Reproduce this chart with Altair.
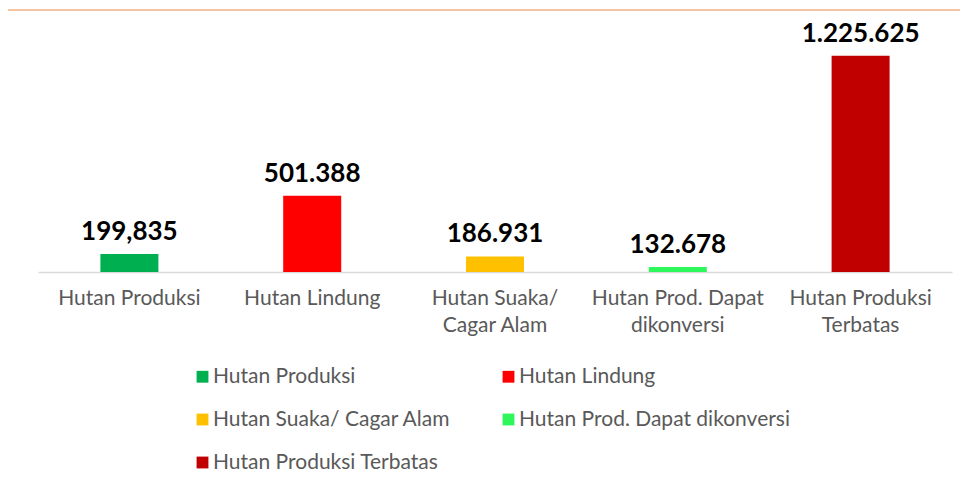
import altair as alt
import pandas as pd

categories = ["Hutan Produksi", "Hutan Lindung", "Hutan Suaka/ Cagar Alam",
              "Hutan Prod. Dapat dikonversi", "Hutan Produksi Terbatas"]
axis_labels = ["Hutan Produksi", "Hutan Lindung", "Hutan Suaka/|Cagar Alam",
               "Hutan Prod. Dapat|dikonversi", "Hutan Produksi|Terbatas"]
values = [199835, 501388, 186931, 132678, 1225625]
value_labels = ["199,835", "501.388", "186.931", "132.678", "1.225.625"]
colors = ["#00B050", "#FF0000", "#FFC000", "#2EF75C", "#C00000"]
axis_min = 106700
axis_max = 1410000

df = pd.DataFrame({
    "category": categories,
    "axis_label": axis_labels,
    "value": values,
    "value_label": value_labels,
})

FONT = "Lato"
GRAY = "#595959"

x_enc = alt.X(
    "axis_label:N",
    sort=axis_labels,
    scale=alt.Scale(paddingInner=0, paddingOuter=0),
    axis=alt.Axis(
        title=None, labelAngle=0, labelFontSize=21, labelColor=GRAY, labelFont=FONT,
        labelPadding=15, labelLineHeight=27, ticks=False, domainColor="#D9D9D9",
        domainWidth=1.5, labelExpr="split(datum.label, '|')", labelBaseline="top",
        labelLimit=300, grid=False,
    ),
)
y_scale = alt.Scale(domain=[axis_min, axis_max], nice=False, zero=False)

base = alt.Chart(df)

bars = base.mark_bar(width=58).encode(
    x=x_enc,
    y=alt.Y("value:Q", scale=y_scale, axis=None),
    y2=alt.datum(axis_min),
    color=alt.Color(
        "category:N",
        scale=alt.Scale(domain=categories, range=colors),
        legend=alt.Legend(
            title=None, orient="none", legendX=154, legendY=346, columns=2,
            direction="horizontal",
            columnPadding=47, rowPadding=21, symbolType="square", symbolSize=140,
            symbolStrokeWidth=0, labelFontSize=21, labelColor=GRAY, labelFont=FONT,
            labelOffset=0, labelLimit=400, padding=0,
        ),
    ),
)

texts = base.mark_text(
    baseline="bottom", dy=-9, fontSize=26, fontWeight="bold", font=FONT, color="#000000"
).encode(
    x=x_enc,
    y=alt.Y("value:Q", scale=y_scale, axis=None),
    text="value_label:N",
)

top_line = alt.Chart(pd.DataFrame({"a": [0]})).mark_rule(
    color="#F4B183", strokeWidth=1.5
).encode(x=alt.value(-34), x2=alt.value(930), y=alt.value(-10))

chart = alt.layer(bars, texts, top_line).properties(
    width=914, height=252,
    autosize=alt.AutoSizeParams(type="none"),
    padding={"left": 30, "top": 12, "right": 8, "bottom": 200},
).configure_view(stroke=None)

chart.save("out.html", embed_options={"renderer": "svg", "actions": False})
